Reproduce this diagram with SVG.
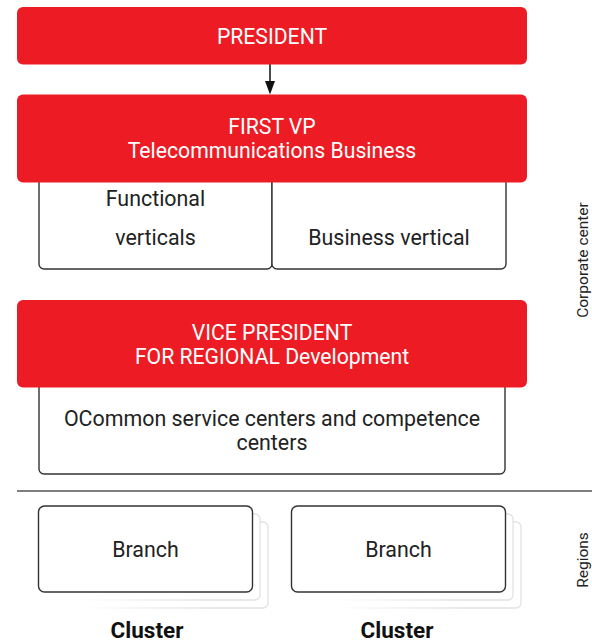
<svg xmlns="http://www.w3.org/2000/svg" width="592" height="644" viewBox="0 0 592 644">
<defs>
<linearGradient id="fade" x1="0" y1="0" x2="1" y2="0">
<stop offset="0.15" stop-color="#e2e2e2" stop-opacity="0"/>
<stop offset="0.75" stop-color="#e2e2e2" stop-opacity="1"/>
</linearGradient>
<style>
.red{fill:#ED1C24;}
.box{fill:#fff;stroke:#333;stroke-width:1.4;}
.ghost{fill:#fff;stroke:url(#fade);stroke-width:1.3;}
.wt{font-family:Roboto,"Liberation Sans",sans-serif;font-size:21.2px;fill:#fff;text-anchor:middle;}
.dt{font-family:Roboto,"Liberation Sans",sans-serif;font-size:21.4px;fill:#222;text-anchor:middle;}
.bt{font-family:Roboto,"Liberation Sans",sans-serif;font-size:22.5px;font-weight:bold;fill:#111;text-anchor:middle;}
.side{font-family:Roboto,"Liberation Sans",sans-serif;font-size:15.5px;fill:#222;text-anchor:middle;}
</style>
</defs>
<rect width="592" height="644" fill="#fff"/>
<g id="connectors">
<line x1="270" y1="64" x2="270" y2="82" stroke="#111" stroke-width="1.5"/>
<polygon points="265,81 275,81 270,94.5" fill="#111"/>
<line x1="17" y1="491" x2="592" y2="491" stroke="#555" stroke-width="1.5"/>
</g>
<g id="functional">
<rect class="box" x="39" y="160" width="233" height="109" rx="5"/>
<text class="dt" x="155.5" y="206">Functional</text>
<text class="dt" x="155.5" y="245">verticals</text>
</g>
<g id="business">
<rect class="box" x="272" y="160" width="234" height="109" rx="5"/>
<text class="dt" x="389" y="245">Business vertical</text>
</g>
<g id="president">
<rect class="red" x="17" y="7" width="510" height="57.5" rx="6"/>
<text class="wt" x="272" y="44">PRESIDENT</text>
</g>
<g id="first-vp">
<rect class="red" x="17" y="94.5" width="510" height="88" rx="6"/>
<text class="wt" x="272" y="134">FIRST VP</text>
<text class="wt" x="272" y="158">Telecommunications Business</text>
</g>
<g id="common-centers">
<rect class="box" x="39" y="370" width="466" height="104" rx="5"/>
<text class="dt" x="272" y="426">OCommon service centers and competence</text>
<text class="dt" x="272" y="450">centers</text>
</g>
<g id="vp-regional">
<rect class="red" x="17" y="300" width="510" height="87.5" rx="6"/>
<text class="wt" x="272" y="340">VICE PRESIDENT</text>
<text class="wt" x="272" y="364">FOR REGIONAL Development</text>
</g>
<g id="branch-1">
<rect class="ghost" x="54" y="522" width="214" height="86" rx="5"/>
<rect class="ghost" x="46" y="514" width="214" height="86" rx="5"/>
<rect class="box" x="38.5" y="506" width="214" height="86" rx="6"/>
<text class="dt" x="145.5" y="557">Branch</text>
</g>
<g id="branch-2">
<rect class="ghost" x="307" y="522" width="214" height="86" rx="5"/>
<rect class="ghost" x="299" y="514" width="214" height="86" rx="5"/>
<rect class="box" x="291.5" y="506" width="214" height="86" rx="6"/>
<text class="dt" x="398.5" y="557">Branch</text>
</g>
<g id="cluster-labels">
<text class="bt" x="147" y="637.5">Cluster</text>
<text class="bt" x="397" y="637.5">Cluster</text>
</g>
<g id="side-labels">
<text class="side" transform="translate(588,260) rotate(-90)">Corporate center</text>
<text class="side" transform="translate(588,560) rotate(-90)">Regions</text>
</g>
</svg>
